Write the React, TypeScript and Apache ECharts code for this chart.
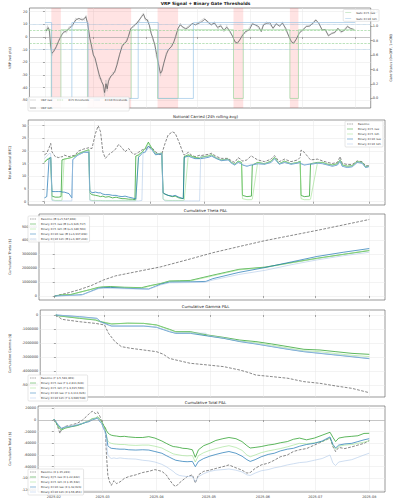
import React, { useEffect, useRef } from 'react';
import * as echarts from 'echarts';

const DAY_MS = 86400000;
const T0 = Date.UTC(2025, 1, 1);
const X_MIN_DAY = -9.05;
const X_MAX_DAY = 190.05;
const MONTH_TICK_DAYS = [0, 28, 59, 89, 120, 150, 181];

// ---------- Panel 1: VRP signal ----------
const VRP_12H: [number, number][] = [
  [0.7, 4.7], [1.9, 7.4], [2.6, 5.5], [3.3, -6.3], [4.0, -12.9], [5.1, -11.6], [6.6, -7.6], [7.9, -3.7], [8.8, -1], [9.7, 1.6],
  [11, 3.7], [12.4, 4.7], [14.3, 6.8], [16.1, 9.5], [18, 13.4], [19.8, 14.7], [21.7, 13.4], [23.1, 14.7], [23.8, 16], [24.9, 10.8],
  [26.2, -1], [27.1, -6.3], [28.2, -14.2], [29.3, -16.8], [30.4, -23.4], [31.7, -30], [33, -35.3], [34.1, -38], [34.8, -44], [35.6, -37],
  [36.3, -41], [37.1, -35], [38.4, -31], [39.5, -30], [40.8, -27], [42.1, -22], [43.5, -14], [45, -7.6], [46.3, -5], [47.6, -3.7],
  [48.7, 0.3], [50, 6.3], [51.8, 9], [53.7, 10.8], [54.9, 13.4], [56.4, 16], [57.5, 17.9], [58.6, 14.2], [59.7, 13.4], [61, 9],
  [61.9, 2.9], [63, -1], [64.1, -6.3], [65.2, -14], [66.5, -23.4], [67.4, -28.7], [68.3, -27], [69.3, -20.8], [70.8, -14], [72, -10],
  [73.9, -7.6], [75.2, -3.7], [76.3, 0.3], [77.6, 6.8], [78.9, 9.5], [80.4, 8], [82.2, 6.3], [84.1, 8], [85.9, 10.8], [87.8, 9.5],
  [91.4, 12], [93.3, 14], [95.1, 12], [97, 9.5], [98.8, 11], [100.7, 7.6], [102.5, 8.7], [104.4, 5.5], [106.2, 7.6], [108.1, 4.2],
  [109.5, 0.3], [110.8, -3.7], [112.3, -5], [113.6, -2.4], [115.1, 0.8], [116.9, 4.2], [119.2, 5.5], [121, 10.3], [122.9, 9.5], [124.7, 8.2],
  [126.2, 4.2], [127.5, 9.5], [129.4, 10.8], [131.2, 11.3], [133.1, 6.8], [134.9, 10.3], [136.8, 8.7], [138.6, 10.8], [140.5, 6.8], [142.3, 0.3],
  [143.8, -3.7], [145.1, -5], [146.6, -1.8], [148.4, 2.9], [150.6, 6], [152.5, 8.2], [154.3, 8.7], [156.5, 10.8], [158, 13.4], [159.8, 10.8],
  [161.7, 5.5], [163.5, 6], [165.4, 0.8], [167.2, 2.9], [169.1, 3.4], [170.9, 6.8], [172.8, 4.2], [174.6, 5], [176.5, 8.2], [178.3, 6.8],
  [180.2, 6],
];
const VRP_RAW: [number, number][] = [
  [0.5, 3], [1.5, 9], [2.5, 4], [3.2, -8], [4, -15], [5, -10], [6.5, -9], [8, -2], [9.5, 0], [11, 5],
  [12.5, 3], [14, 8], [16, 8], [18, 15], [20, 13], [21.5, 15], [23, 13], [24, 17], [25, 8], [26, 0],
  [27, -8], [28, -12], [29.3, -19], [30.4, -22], [31.7, -33], [33, -33], [34, -41], [34.8, -47], [35.6, -34], [36.3, -43],
  [37, -33], [38.4, -32], [39.5, -28], [41, -28], [42, -20], [43.5, -15], [45, -6], [46.3, -6], [47.6, -2], [48.7, 1],
  [50, 7], [52, 8], [53.7, 12], [55, 12], [56.4, 17], [57.5, 19], [58.6, 13], [60, 14], [61, 8], [62, 4],
  [63, -3], [64, -5], [65, -16], [66.5, -22], [67.4, -31], [68.3, -25], [69.3, -22], [70.8, -12], [72, -11], [74, -6],
  [75.2, -5], [76.3, 2], [77.6, 5], [79, 11], [80.4, 7], [82, 7], [84, 9], [86, 10], [88, 10], [91, 13],
  [93, 15], [95, 11], [97, 10], [99, 12], [101, 6], [102.5, 10], [104.4, 4], [106, 9], [108, 3], [109.5, 1],
  [111, -5], [112.3, -4], [113.6, -3], [115, 2], [117, 3], [119, 7], [121, 11], [123, 9], [124.7, 7], [126, 5],
  [127.5, 10], [129.4, 12], [131, 10], [133, 7], [135, 11], [137, 8], [138.6, 12], [140.5, 5], [142.3, 1], [143.8, -5],
  [145, -4], [146.6, -2], [148.4, 4], [150.6, 5], [152.5, 9], [154.3, 8], [156.5, 12], [158, 14], [160, 10], [161.7, 6],
  [163.5, 5], [165.4, 2], [167.2, 2], [169, 4], [171, 7], [172.8, 3], [174.6, 6], [176.5, 9], [178.3, 6], [180.2, 5],
];
const X5_THRESHOLDS = [5, -5];
const X10_THRESHOLDS = [10, -10];
const GATE_START_DAY = 0;
const GATE_END_DAY = 181;
const GATE_X5_OFF: [number, number][] = [[3.7, 9.3], [24.8, 50.3], [65.7, 77.7], [110, 115.7], [142.9, 147.9]];
const GATE_X10_OFF: [number, number][] = [[3.9, 15.7], [25.2, 54.4], [66.1, 86.6]];
const GATE_X5_LEVEL = 0.95;
const GATE_X10_LEVEL = 1.05;
const VRP_TICKS = [-50, -40, -30, -20, -10, 0, 10, 20];
const GATE_TICKS = [0, 0.2, 0.4, 0.6, 0.8, 1.0, 1.2];

// ---------- Panel 2: Notional ----------
const NOTIONAL_DAYS = [
  0, 1.3, 2.6, 3.5, 4.2, 6, 8, 9.3, 9.8, 11,
  13.7, 15.3, 15.8, 17, 19, 22, 24.8, 25.3, 26.5, 28.5,
  30, 31.3, 32.6, 34, 36, 38, 40, 41.4, 43.3, 45,
  47, 49, 50.5, 51, 52.5, 54.4, 55, 56.2, 58, 60,
  62, 64, 65.5, 66.2, 67.3, 69, 71.4, 73, 75, 77.5,
  78, 80.3, 82, 84, 86.6, 87.2, 89, 91.4, 93.3, 96,
  98.8, 102.5, 104.4, 106.2, 108.1, 110, 110.5, 113, 115.5, 116,
  119, 122.8, 126.5, 128.4, 131, 134, 137.6, 141.3, 142.7, 143.2,
  145, 147.9, 148.5, 152.4, 155.2, 158, 160.7, 163.5, 165, 166.2,
  169, 171.8, 174.5, 177.3, 179.2, 181,
];
const NOTIONAL_BASELINE = [
  18.5, 19.1, 21.3, 23, 19.7, 17.8, 17.4, 17.8, 17.6, 18.4,
  17.8, 18.1, 18.2, 18.3, 20, 20.8, 21.3, 21.1, 21, 27,
  30, 27.6, 19.7, 17.1, 18.7, 19.7, 21, 22.6, 21.3, 19.7,
  21, 19.1, 18.7, 18.9, 19.5, 20.4, 20.6, 20.8, 21.7, 21.3,
  19.7, 18.7, 18.7, 20.5, 23, 26.3, 27.6, 27, 23.7, 19,
  18.4, 19.5, 18.4, 17.8, 18.3, 18.2, 18.4, 18.7, 19.1, 17.8,
  17.1, 17.1, 16.1, 15.5, 17.4, 16.5, 16, 16.5, 18.2, 17.8,
  16.5, 15.8, 16.8, 18.2, 15.8, 16.8, 15.8, 16.5, 17.5, 20.4,
  19.5, 17, 16.5, 16.8, 16.1, 15.5, 15.1, 15.5, 17.8, 15.1,
  14.7, 14.7, 16.1, 15.8, 14.2, 14.2,
];
const NOTIONAL_X5_RAW = [
  15.5, 16.5, 17, 17.5, 2.2, 1.8, 1.8, 2, 16.5, 16.8,
  17.2, 17.5, 17.7, 18, 19, 19.8, 20.5, 3.5, 2.8, 2.5,
  2.3, 2, 2.2, 1.8, 2, 1.5, 1.8, 1.5, 1.2, 1.2,
  1, 1, 0.8, 18, 18.5, 19.5, 20, 21, 23.5, 21,
  19, 19, 19.2, 3.5, 3, 2.5, 2, 2.2, 1.5, 1.2,
  17.8, 18.5, 18, 17.5, 17.2, 17.5, 17.8, 18, 18.5, 17.2,
  16.5, 16.8, 15.5, 14.8, 16, 15.5, 2.5, 2, 2.2, 14.5,
  15.5, 15, 16, 17.5, 15, 16, 15, 15.5, 16, 2.5,
  2, 2.2, 15, 15.5, 15.5, 14.8, 14.5, 15, 16.5, 14.5,
  14, 14.2, 15.8, 15.5, 13.8, 14,
];
const NOTIONAL_X5_12H = [
  15.8, 16.8, 17.2, 17.5, 0.8, 0.5, 0.5, 0.5, 0.6, 16.8,
  17.2, 17.5, 17.8, 18, 19, 19.8, 20.5, 0.8, 0.5, 0.5,
  0.5, 0.5, 0.4, 0.4, 0.4, 0.4, 0.4, 0.4, 0.4, 0.4,
  0.4, 0.4, 0.4, 0.5, 18.5, 19.5, 20, 21, 23, 21,
  19, 19, 19.2, 1, 0.6, 0.5, 0.5, 0.5, 0.5, 0.5,
  0.6, 18.5, 18, 17.5, 17.2, 17.5, 17.8, 18, 18.5, 17.2,
  16.5, 16.8, 15.5, 14.8, 16, 15.5, 1.2, 0.8, 0.8, 1,
  15.5, 15, 16, 17.5, 15, 16, 15, 15.5, 16, 1.2,
  0.8, 0.8, 1, 15.5, 15.5, 14.8, 14.5, 15, 16.5, 14.5,
  14, 14.2, 15.8, 15.5, 13.8, 14,
];
const NOTIONAL_X10_RAW = [
  1.5, 2, 17, 17.5, 4, 4, 4, 4, 3.8, 3.8,
  3.2, 1.5, 16.5, 17.5, 18.5, 19.5, 19.5, 4.5, 3.5, 3.8,
  3.5, 3.5, 3, 2.8, 2.8, 2.5, 2.5, 2.2, 2, 2.2,
  1.8, 1.5, 1.2, 1, 17.5, 19, 19.5, 19.5, 22, 20.5,
  18.5, 18.8, 19, 3.5, 3, 2.5, 2.2, 2.5, 1.8, 1.2,
  17.5, 18, 17.5, 17, 17, 17, 17.2, 17.5, 18, 17,
  16.2, 16.5, 15.2, 14.5, 15.5, 15, 14.5, 14, 14.5, 14.5,
  15, 14.8, 15.5, 17, 14.8, 15.5, 14.8, 15.2, 15.5, 15,
  14.5, 14.8, 14.8, 15.2, 15, 14.5, 14, 14.5, 16, 14,
  13.5, 13.8, 15.5, 15.2, 13.5, 13.8,
];
const NOTIONAL_X10_12H = [
  17, 18, 19, 19, 0.5, 0.3, 0.3, 0.3, 0.3, 0.3,
  0.3, 0.3, 16.5, 17.5, 18.5, 19.5, 20, 0.5, 0.3, 0.3,
  0.3, 0.3, 0.3, 0.3, 0.3, 0.3, 0.3, 0.3, 0.3, 0.3,
  0.3, 0.3, 0.3, 0.3, 0.3, 0.5, 19, 19.5, 21, 20.5,
  19, 19, 19, 1, 0.3, 0.3, 0.3, 0.3, 0.3, 0.3,
  0.3, 0.3, 0.3, 0.3, 0.3, 18, 17.5, 17.8, 18.2, 17.2,
  16.4, 16.6, 15.3, 14.6, 15.6, 15.1, 14.6, 14.2, 14.6, 14.6,
  15.1, 14.9, 15.6, 17.1, 14.9, 15.6, 14.9, 15.3, 15.6, 15.1,
  14.6, 14.9, 14.9, 15.3, 15.1, 14.6, 14.1, 14.6, 16.1, 14.1,
  13.6, 13.9, 15.6, 15.3, 13.6, 13.9,
];
const NOTIONAL_TICKS = [0, 5, 10, 15, 20, 25, 30];

// ---------- Panel 3: Theta (millions $) ----------
const THETA_BASELINE: [number, number][] = [[0, 0], [7, 0.2], [14, 0.45], [21, 0.75], [28, 1.15], [35, 1.45], [45, 1.7], [61, 2.1], [76, 2.6], [91, 3.12], [106, 3.56], [121, 3.99], [136, 4.36], [151, 4.73], [166, 5.12], [181, 5.515]];
const THETA_X5_RAW: [number, number][] = [[0, 0], [4, 0.08], [9, 0.1], [14, 0.26], [20, 0.45], [25, 0.62], [28, 0.66], [32, 0.68], [40, 0.63], [50, 0.6], [55, 0.75], [61, 0.9], [66, 1.08], [72, 1.1], [78, 1.12], [91, 1.5], [106, 1.92], [121, 2.08], [136, 2.4], [151, 2.72], [166, 3.0], [181, 3.27]];
const THETA_X5_12H: [number, number][] = [[0, 0], [4, 0.07], [10, 0.1], [14, 0.25], [20, 0.44], [25, 0.6], [28, 0.63], [40, 0.6], [51, 0.58], [55, 0.72], [61, 0.88], [66, 1.05], [78, 1.08], [91, 1.45], [106, 1.88], [121, 2.05], [136, 2.38], [151, 2.7], [166, 3.0], [181, 3.3]];
const THETA_X10_RAW: [number, number][] = [[0, 0], [4, 0.02], [10, 0.05], [16, 0.1], [20, 0.3], [25, 0.55], [28, 0.6], [32, 0.62], [40, 0.56], [54, 0.5], [58, 0.7], [61, 0.85], [66, 1.0], [78, 1.02], [87, 1.05], [91, 1.25], [106, 1.7], [121, 2.05], [136, 2.45], [151, 2.85], [166, 3.15], [181, 3.42]];
const THETA_X10_12H: [number, number][] = [[0, 0], [4, 0.02], [15, 0.05], [20, 0.28], [25, 0.52], [28, 0.55], [40, 0.52], [54, 0.48], [58, 0.66], [61, 0.8], [66, 0.95], [86, 0.98], [91, 1.15], [106, 1.55], [121, 1.85], [136, 2.25], [151, 2.6], [166, 2.9], [181, 3.15]];
const THETA_TICKS = [0, 1000000, 2000000, 3000000, 4000000, 5000000];

// ---------- Panel 4: Gamma (millions $) ----------
const GAMMA_BASELINE: [number, number][] = [[0, 0], [3.5, -0.31], [13.7, -0.48], [22.9, -0.6], [28.1, -0.71], [30.4, -1.31], [34.1, -1.9], [37.8, -2.26], [43.3, -2.38], [50.7, -2.5], [58.1, -2.62], [62, -2.8], [65.5, -3.1], [69.2, -3.21], [77.6, -3.45], [87.7, -3.57], [97, -3.69], [106.2, -3.93], [111, -4.1], [115.5, -4.29], [124.7, -4.4], [134, -4.52], [143.2, -4.76], [152.5, -4.88], [161.7, -5.07], [171, -5.24], [181, -5.55]];
const GAMMA_X5_RAW: [number, number][] = [[0, 0], [2, -0.07], [13.7, -0.24], [22.9, -0.36], [25.7, -0.48], [30.4, -0.6], [32.2, -0.64], [41.4, -0.58], [50.7, -0.6], [58.1, -0.71], [65.5, -1.02], [69.2, -1.19], [77.6, -1.19], [87.7, -1.43], [97, -1.6], [106.2, -1.79], [115.5, -1.9], [124.7, -2.07], [134, -2.26], [143.2, -2.45], [152.5, -2.5], [161.7, -2.62], [171, -2.74], [181, -2.81]];
const GAMMA_X5_12H: [number, number][] = [[0, 0], [2, -0.06], [13.7, -0.22], [22.9, -0.34], [25.7, -0.45], [30.4, -0.58], [32.2, -0.62], [50.7, -0.6], [58.1, -0.72], [65.5, -1.05], [69.2, -1.22], [77.6, -1.24], [87.7, -1.48], [97, -1.66], [106.2, -1.86], [115.5, -1.98], [124.7, -2.16], [134, -2.36], [143.2, -2.55], [152.5, -2.62], [161.7, -2.76], [171, -2.88], [181, -2.97]];
const GAMMA_X10_RAW: [number, number][] = [[0, 0], [13.7, -0.12], [23.8, -0.24], [25.7, -0.48], [30.4, -0.71], [32.2, -0.79], [50.7, -0.79], [58.1, -0.88], [65.5, -1.19], [69.2, -1.31], [77.6, -1.31], [87.7, -1.5], [97, -1.67], [106.2, -1.9], [115.5, -2.07], [124.7, -2.26], [134, -2.45], [143.2, -2.62], [152.5, -2.74], [161.7, -2.86], [171, -2.98], [181, -3.12]];
const GAMMA_X10_12H: [number, number][] = [[0, 0], [13.7, -0.13], [23.8, -0.26], [25.7, -0.5], [30.4, -0.74], [32.2, -0.8], [54.4, -0.8], [58.1, -0.86], [65.5, -1.16], [69.2, -1.28], [86.6, -1.3], [87.7, -1.46], [97, -1.64], [106.2, -1.87], [115.5, -2.05], [124.7, -2.24], [134, -2.43], [143.2, -2.6], [152.5, -2.72], [161.7, -2.84], [171, -2.96], [181, -3.09]];
const GAMMA_TICKS = [-5000000, -4000000, -3000000, -2000000, -1000000, 0];

// ---------- Panel 5: Total (thousands $) ----------
const TOTAL_DAYS = [
  0, 1, 2.5, 3.5, 4.5, 6.5, 10, 13.5, 16.5, 18.5,
  20, 22, 24, 25, 26.5, 27.5, 28.5, 29.5, 30.2, 31,
  32, 33, 34.5, 36, 38, 40.5, 43, 47, 51, 54.5,
  58, 62, 64.5, 66.5, 68.5, 70, 72, 74, 76.5, 79.5,
  81.2, 83, 86, 89.5, 93, 97, 100.5, 104.5, 108, 110.8,
  112.7, 115.5, 119, 123, 126.5, 130, 134, 137.5, 141, 145,
  149.5, 154, 158.5, 160.2, 161.7, 163.5, 167, 171, 174.5, 178,
  181,
];
const TOTAL_BASELINE = [
  1.5, -2, -14, -23, -15, -11, -8.5, -5.5, 0, 5.5,
  10, 15, 11, 14, 6, -3, -9, -16, -60, -95,
  -106, -112, -104, -109, -106, -100, -97, -94, -90, -88,
  -85, -88, -94, -103, -111, -114, -108, -103, -97, -94,
  -108, -94, -88, -86, -83, -80, -77, -82, -86, -91,
  -90, -83, -77, -74, -69, -63, -60, -54, -51, -49,
  -43, -37, -31, -46, -54, -47, -49, -46, -43, -40,
  -35.3,
];
const TOTAL_X5_RAW = [
  1.5, -3, -11, -15, -17, -14, -11.5, -9.5, -6, -3.5,
  -2, 2, 3, 5.5, 1, -3, -9, -13, -18, -22,
  -24.5, -26, -27, -27.5, -28.5, -28, -29, -30, -30, -28.5,
  -31, -36, -40, -43, -45.5, -46, -47, -48.5, -49, -51,
  -64, -51, -44, -40, -35, -32, -30, -32, -37, -44,
  -48, -47, -45.5, -43, -41.5, -39, -37, -33, -31, -34,
  -31, -26, -21, -30, -37, -31, -29, -28, -27, -23,
  -22.8,
];
const TOTAL_X5_12H = [
  1.5, -2.5, -10, -14, -16, -13.5, -11, -9, -5.5, -3,
  -1, 2.5, 3.5, 5, 0, -4, -10, -16, -26, -36,
  -39, -40, -41, -41.5, -42, -42, -43, -43.5, -43, -43,
  -45, -48, -52, -55, -58, -59, -60, -61, -61.5, -61,
  -72, -61, -56, -52, -49, -46, -44, -47, -52, -60,
  -63, -60, -56, -53, -51, -49, -46, -43, -40, -41,
  -39, -37, -31, -44, -50, -45, -43, -42, -40, -38,
  -35.6,
];
const TOTAL_X10_RAW = [
  1.5, -2, -8.5, -12, -14.5, -12, -11, -8.5, -6, -4,
  -3, 0, 2, 3, -3, -6, -14, -20, -28, -44,
  -47, -48.5, -49, -49.5, -50, -50, -51, -51.5, -51, -51.5,
  -54, -57, -61, -64, -67, -69, -70, -71, -71.5, -71,
  -80, -71, -66, -62, -59, -56, -54, -57, -62, -68,
  -71, -68, -63, -59, -57, -53, -50, -48.5, -45, -42,
  -40, -36, -29, -42, -48, -43, -41, -40, -37, -34,
  -32,
];
const TOTAL_X10_12H = [
  1.5, -2, -8, -11, -13.5, -12, -10.5, -8, -5.5, -3.5,
  -2, 1, 3, 4, -2, -6, -13, -22, -40, -60,
  -64, -66, -65, -66, -65, -66, -66.5, -67, -69, -70,
  -72, -76, -80, -84, -88, -92, -95, -96, -97, -97,
  -106, -97, -92, -88, -86, -85, -84, -86, -89, -94,
  -95, -91, -87, -85, -82, -80, -77, -75, -73, -72,
  -69, -66, -60, -74, -78, -72, -70, -68, -64, -60,
  -56.9,
];
const TOTAL_TICKS = [-120000, -100000, -80000, -60000, -40000, -20000, 0, 20000];

// ---------- Legend names ----------
const N1 = ['Baseline', 'Binary X=5 raw', 'Binary X=5 12h', 'Binary X=10 raw', 'Binary X=10 12h'];
const THETA_NAMES = ['Baseline (Θ $+5,547,808)', 'Binary X=5 raw (Θ $+3,326,717)', 'Binary X=5 12h (Θ $+3,340,504)', 'Binary X=10 raw (Θ $+3,337,839)', 'Binary X=10 12h (Θ $+3,307,294)'];
const GAMMA_NAMES = ['Baseline (Γ $-5,549,903)', 'Binary X=5 raw (Γ $-2,811,028)', 'Binary X=5 12h (Γ $-3,015,566)', 'Binary X=10 raw (Γ $-3,111,626)', 'Binary X=10 12h (Γ $-3,080,598)'];
const TOTAL_NAMES = ['Baseline (Σ $-35,283)', 'Binary X=5 raw (Σ $-22,842)', 'Binary X=5 12h (Σ $-35,632)', 'Binary X=10 raw (Σ $-32,023)', 'Binary X=10 12h (Σ $-56,851)'];

const fromPairs = (p: [number, number][], s = 1) => p.map(([d, v]) => [d, v * s]);
const fromGrid = (days: number[], vals: number[], s = 1) => days.map((d, i) => [d, vals[i] * s]);
const gatePoints = (off: [number, number][], level: number) => {
  const pts: number[][] = [[GATE_START_DAY, level]];
  off.forEach(([a, b]) => { pts.push([a, level], [a, 0], [b, 0], [b, level]); });
  pts.push([GATE_END_DAY, level]);
  return pts;
};

const FONT = 'DejaVu Sans';
const C_GREEN = '#2ca02c';
const C_BLUE = '#1f77b4';
const C_LGREEN = '#98df8a';
const C_LBLUE = '#aec7e8';
const C_BASE = '#555555';
const STYLES = [
  { color: C_BASE, width: 0.7, type: 'dashed', opacity: 1 },
  { color: C_GREEN, width: 0.9, type: 'solid', opacity: 0.85 },
  { color: C_LGREEN, width: 0.6, type: 'solid', opacity: 1 },
  { color: C_BLUE, width: 0.9, type: 'solid', opacity: 0.8 },
  { color: C_LBLUE, width: 0.6, type: 'solid', opacity: 1 },
];

// legend icons (thin line, dashed line, dotted line)
const ICON_SOLID = 'path://M0 0H12V1H0Z';
const ICON_DASHED = 'path://M0 0H3V1H0Z M4.5 0H7.5V1H4.5Z M9 0H12V1H9Z';
const ICON_DOTTED = 'path://M0 0H1V1H0Z M2.2 0H3.2V1H2.2Z M4.4 0H5.4V1H4.4Z M6.6 0H7.6V1H6.6Z M8.8 0H9.8V1H8.8Z M11 0H12V1H11Z';

const line = (name: string, data: any[], idx: number, yIdx: number, st: any, extra: any = {}) => ({
  name, type: 'line', data, xAxisIndex: idx, yAxisIndex: yIdx, showSymbol: false, symbol: 'none',
  lineStyle: { color: st.color, width: st.width, type: st.type, opacity: st.opacity },
  itemStyle: { color: st.color }, emphasis: { disabled: true }, silent: true, animation: false, ...extra,
});

const GRIDS = [
  { left: 26, top: 8, width: 359, height: 100 },
  { left: 26, top: 120, width: 359, height: 85 },
  { left: 26, top: 214, width: 359, height: 86 },
  { left: 26, top: 310, width: 359, height: 87 },
  { left: 26, top: 406, width: 359, height: 86 },
];

export default function App() {
  const ref = useRef<HTMLDivElement>(null);
  useEffect(() => {
    document.body.style.margin = '0';
    if (!ref.current) return;
    const chart = echarts.init(ref.current, null, { renderer: 'svg' });
    const fmtMonth = (v: number) => {
      const d = new Date(T0 + Math.round(v) * DAY_MS);
      return d.getUTCFullYear() + '-' + String(d.getUTCMonth() + 1).padStart(2, '0');
    };
    const tickStyle = { show: true, length: 2, lineStyle: { color: '#555', width: 0.5 } };
    const splitStyle = { show: true, lineStyle: { color: '#e6e6e6', width: 0.5 } };
    const lblStyle = { fontSize: 3.4, color: '#333', fontFamily: FONT, margin: 2 };

    const xAxes = GRIDS.map((_, i) => ({
      type: 'value', gridIndex: i, min: X_MIN_DAY, max: X_MAX_DAY,
      axisLine: { show: false },
      axisTick: { ...tickStyle, customValues: MONTH_TICK_DAYS },
      axisLabel: { ...lblStyle, show: i === 4, customValues: MONTH_TICK_DAYS, formatter: fmtMonth, margin: 3 },
      splitLine: splitStyle,
    }));
    const yBase = (gridIndex: number, min: number, max: number, ticks: number[], name: string, nameGap: number, fmt: (v: number) => string, extra: any = {}) => ({
      type: 'value', gridIndex, min, max,
      name, nameLocation: 'middle', nameGap, nameTextStyle: { fontSize: 3.4, color: '#333', fontFamily: FONT },
      axisLine: { show: false },
      axisTick: { ...tickStyle, customValues: ticks },
      axisLabel: { ...lblStyle, customValues: ticks, formatter: fmt },
      splitLine: splitStyle,
      ...extra,
    });
    const intFmt = (v: number) => String(Math.round(v));
    const yAxes = [
      yBase(0, -56.2, 22.9, VRP_TICKS, 'VRP (vol pts)', 11, intFmt),
      yBase(0, -0.132, 1.251, GATE_TICKS, 'Gate Status (0=OFF, 1=ON)', 10, (v: number) => v.toFixed(1), { position: 'right', splitLine: { show: false } }),
      yBase(1, -1.3, 32.25, NOTIONAL_TICKS, 'Total Notional (BTC)', 9, intFmt),
      yBase(2, -290000, 5910000, THETA_TICKS, 'Cumulative Theta ($)', 19, intFmt),
      yBase(3, -5857000, 357000, GAMMA_TICKS, 'Cumulative Gamma ($)', 19, intFmt),
      yBase(4, -123400, 24000, TOTAL_TICKS, 'Cumulative Total ($)', 19, intFmt),
    ];

    const titleBase = (text: string, top: number, bold = false) => ({
      text, left: 205.5, top, textAlign: 'center', padding: 0,
      textStyle: { fontSize: bold ? 4.3 : 3.9, fontWeight: bold ? 'bold' : 'normal', color: '#222', fontFamily: FONT },
    });

    const legBase = {
      itemWidth: 6, itemHeight: 0.7, itemGap: 2, padding: [1.5, 2, 1.5, 2],
      textStyle: { fontSize: 2.7, color: '#333', fontFamily: FONT, lineHeight: 3 },
      backgroundColor: 'rgba(255,255,255,0.85)', borderColor: '#cccccc', borderWidth: 0.5, borderRadius: 1,
      selectedMode: false,
    };
    const iconFor = (t: string) => (t === 'dashed' ? ICON_DASHED : t === 'dotted' ? ICON_DOTTED : ICON_SOLID);
    const li = (name: string, t = 'solid') => ({ name, icon: iconFor(t) });
    const li5 = (names: string[]) => names.map((n, i) => li(n, STYLES[i].type));

    const zeroLine = {
      silent: true, symbol: 'none', label: { show: false },
      lineStyle: { color: '#999999', width: 0.5, type: 'solid' },
      data: [{ yAxis: 0 }],
    };

    const series: any[] = [];
    // Panel 1
    series.push(line('VRP raw', fromPairs(VRP_RAW), 0, 0, { color: '#bbbbbb', width: 0.5, type: 'solid', opacity: 1 }));
    series.push(line('VRP 12h', fromPairs(VRP_12H), 0, 0, { color: '#555555', width: 0.7, type: 'solid', opacity: 1 }, {
      markArea: {
        silent: true, itemStyle: { color: 'rgba(255,0,0,0.11)' },
        data: GATE_X5_OFF.map(([a, b]) => [{ xAxis: a }, { xAxis: b }]),
      },
      markLine: zeroLine,
    }));
    series.push(line('X=5 thresholds', [], 0, 0, { color: '#8fd08f', width: 0.6, type: 'dashed', opacity: 1 }, {
      markLine: {
        silent: true, symbol: 'none', label: { show: false },
        lineStyle: { color: '#8fd08f', width: 0.6, type: 'dashed' },
        data: X5_THRESHOLDS.map((y) => ({ yAxis: y })),
      },
    }));
    series.push(line('X=10 thresholds', [], 0, 0, { color: '#8fbde3', width: 0.6, type: 'dotted', opacity: 1 }, {
      markLine: {
        silent: true, symbol: 'none', label: { show: false },
        lineStyle: { color: '#8fbde3', width: 0.6, type: 'dotted' },
        data: X10_THRESHOLDS.map((y) => ({ yAxis: y })),
      },
    }));
    series.push(line('Gate X=5 raw', gatePoints(GATE_X5_OFF, GATE_X5_LEVEL), 0, 1, { color: '#9ed49e', width: 0.7, type: 'solid', opacity: 1 }));
    series.push(line('Gate X=10 12h', gatePoints(GATE_X10_OFF, GATE_X10_LEVEL), 0, 1, { color: '#9cc5e6', width: 0.7, type: 'solid', opacity: 1 }));

    // Panel 2
    const notional = [NOTIONAL_BASELINE, NOTIONAL_X5_RAW, NOTIONAL_X5_12H, NOTIONAL_X10_RAW, NOTIONAL_X10_12H];
    notional.forEach((vals, i) => series.push(line(N1[i], fromGrid(NOTIONAL_DAYS, vals), 1, 2, STYLES[i])));
    // Panel 3
    [THETA_BASELINE, THETA_X5_RAW, THETA_X5_12H, THETA_X10_RAW, THETA_X10_12H].forEach((p, i) =>
      series.push(line(THETA_NAMES[i], fromPairs(p, 1e6), 2, 3, STYLES[i])));
    // Panel 4
    [GAMMA_BASELINE, GAMMA_X5_RAW, GAMMA_X5_12H, GAMMA_X10_RAW, GAMMA_X10_12H].forEach((p, i) =>
      series.push(line(GAMMA_NAMES[i], fromPairs(p, 1e6), 3, 4, STYLES[i])));
    // Panel 5
    [TOTAL_BASELINE, TOTAL_X5_RAW, TOTAL_X5_12H, TOTAL_X10_RAW, TOTAL_X10_12H].forEach((vals, i) =>
      series.push(line(TOTAL_NAMES[i], fromGrid(TOTAL_DAYS, vals, 1000), 4, 5, STYLES[i], i === 0 ? { markLine: zeroLine } : {})));

    chart.setOption({
      animation: false,
      textStyle: { fontFamily: FONT },
      title: [
        titleBase('VRP Signal + Binary Gate Thresholds', 1.5, true),
        titleBase('Notional Carried (24h rolling avg)', 114),
        titleBase('Cumulative Theta P&L', 208.5),
        titleBase('Cumulative Gamma P&L', 304),
        titleBase('Cumulative Total P&L', 400),
      ],
      grid: GRIDS.map((g) => ({ ...g, show: true, borderColor: '#555', borderWidth: 0.6, backgroundColor: 'transparent' })),
      xAxis: xAxes,
      yAxis: yAxes,
      legend: [
        { ...legBase, data: [li('VRP raw'), li('X=5 thresholds', 'dashed'), li('X=10 thresholds', 'dotted'), li('VRP 12h')], left: 28, top: 97, width: 100, orient: 'horizontal', itemGap: 5 },
        { ...legBase, data: [li('Gate X=5 raw'), li('Gate X=10 12h')], right: 21, top: 9.5, orient: 'vertical', itemGap: 2.8 },
        { ...legBase, data: li5(N1), right: 17, top: 121, orient: 'vertical' },
        { ...legBase, data: li5(THETA_NAMES), left: 28, top: 216, orient: 'vertical' },
        { ...legBase, data: li5(GAMMA_NAMES), left: 28, top: 375, orient: 'vertical' },
        { ...legBase, data: li5(TOTAL_NAMES), left: 28, top: 469, orient: 'vertical' },
      ],
      series,
    });
    return () => chart.dispose();
  }, []);
  return <div ref={ref} style={{ width: 400, height: 500 }} />;
}
